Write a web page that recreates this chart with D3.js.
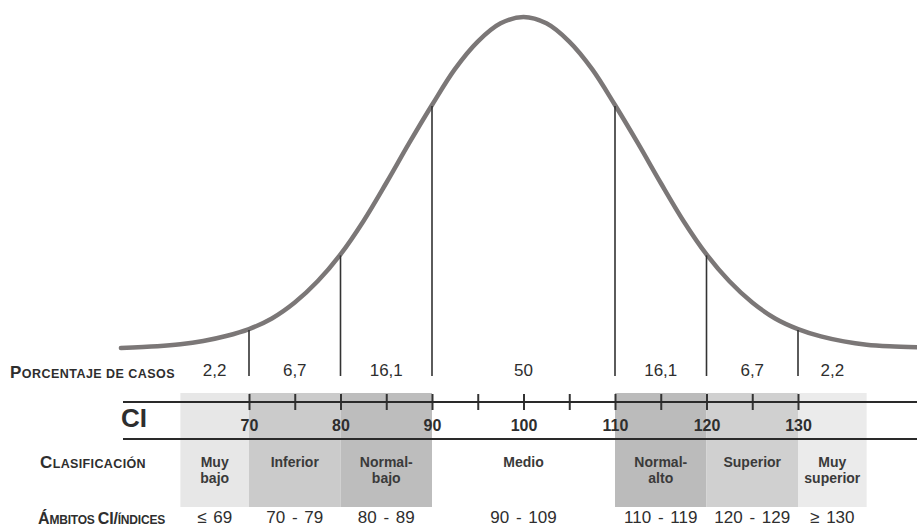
<!DOCTYPE html>
<html><head><meta charset="utf-8">
<script src="https://cdn.jsdelivr.net/npm/d3@7"></script>
<style>body{margin:0;background:#fff}svg{display:block;font-family:"Liberation Sans",Arial,sans-serif}</style>
</head><body>
<svg id="chart" width="917" height="528"></svg>
<script>
// ---- data ----
const curveIQ = [56,60,62.5,65,67.5,70,72.5,75,77.5,80,82.5,85,87.5,90,92.5,95,97.5,100,102.5,105,107.5,110,112.5,115,117.5,120,122.5,125,127.5,130,132.5,135,137.5,140,143];
const curveHeight = [0.3,0.8,1.4,2.4,3.9,6.0,9.2,14.0,20.4,28.5,38.5,50.0,62.0,73.5,84.3,92.6,98.1,100,98.1,92.6,84.3,73.5,62.0,50.0,38.5,28.5,20.4,14.0,9.2,6.0,3.8,2.3,1.3,0.8,0.5];
const cutPoints = [70,80,90,110,120,130];
const tickValues = [70,75,80,85,90,95,100,105,110,115,120,125,130];
const labeledTicks = [70,80,90,100,110,120,130];
const categories = ["Muy bajo","Inferior","Normal-bajo","Medio","Normal-alto","Superior","Muy superior"];
const classLines = [["Muy","bajo"],["Inferior"],["Normal-","bajo"],["Medio"],["Normal-","alto"],["Superior"],["Muy","superior"]];
const percentages = ["2,2","6,7","16,1","50","16,1","6,7","2,2"];
const rangeLabels = ["\u2264 69","70 - 79","80 - 89","90 - 109","110 - 119","120 - 129","\u2265 130"];
const bandFrom = [62.5,70,80,90,110,120,130];
const bandTo = [70,80,90,110,120,130,137.5];
const rowPorcentaje = [["P",1],["ORCENTAJE DE CASOS",0]];
const rowClasificacion = [["C",1],["LASIFICACI\u00d3N",0]];
const rowAmbitos = [["\u00c1",1],["MBITOS ",0],["CI/",1],["\u00cdNDICES",0]];
const axisTitle = "CI";

// ---- drawing ----
const svg = d3.select("#chart");
const x = d3.scaleLinear().domain([70,130]).range([249,798]);
const y = d3.scaleLinear().domain([0,100]).range([349,17]);
const shade = d3.scaleOrdinal().domain(categories)
  .range(["#e7e7e7","#cbcbcb","#bdbdbd","none","#bbbbbb","#d0d0d0","#ebebeb"]);
const ink = "#2e2e2e";

// shaded classification bands
svg.append("g").selectAll("rect").data(categories).join("rect")
  .attr("x", (d,i) => x(bandFrom[i]))
  .attr("y", 393)
  .attr("width", (d,i) => x(bandTo[i]) - x(bandFrom[i]))
  .attr("height", 114)
  .attr("fill", d => shade(d));

// bell curve
const pts = curveIQ.map((v,i) => [v, curveHeight[i]]);
const line = d3.line().x(d => x(d[0])).y(d => y(d[1])).curve(d3.curveCatmullRom.alpha(0.5));
svg.append("path").datum(pts).attr("d", line)
  .attr("fill","none").attr("stroke","#7b7777").attr("stroke-width",4.5).attr("stroke-linecap","round");

// vertical cut lines
svg.append("g").selectAll("line").data(cutPoints).join("line")
  .attr("x1", d => x(d)).attr("x2", d => x(d))
  .attr("y1", d => y(curveHeight[curveIQ.indexOf(d)]) + 1)
  .attr("y2", 376)
  .attr("stroke", "#333").attr("stroke-width", 1.6);

// percentages
const mids = categories.map((d,i) => (bandFrom[i] + bandTo[i]) / 2);
svg.append("g").selectAll("text").data(percentages).join("text")
  .attr("x", (d,i) => x(mids[i])).attr("y", 376)
  .attr("text-anchor","middle").attr("font-size",17).attr("fill",ink)
  .text(d => d);

// axis
const axis = d3.axisBottom(x).tickValues(tickValues).tickSize(8)
  .tickFormat(d => labeledTicks.includes(d) ? d : "");
const ag = svg.append("g").attr("transform","translate(0,402)").call(axis);
ag.select(".domain").remove();
ag.selectAll(".tick line").attr("y1",-8).attr("y2",8).attr("stroke","#333").attr("stroke-width",2);
ag.selectAll(".tick text").attr("y",0).attr("dy",null)
  .attr("transform","translate(0,29)")
  .attr("font-size",16).attr("font-weight","bold").attr("fill",ink)
  .attr("font-family",'"Liberation Sans",Arial,sans-serif');
svg.append("line").attr("x1",123).attr("x2",917).attr("y1",402).attr("y2",402)
  .attr("stroke","#2a2a2a").attr("stroke-width",2);
svg.append("line").attr("x1",123).attr("x2",917).attr("y1",439).attr("y2",439)
  .attr("stroke","#2a2a2a").attr("stroke-width",2);

// classification labels
const cg = svg.append("g").selectAll("text").data(classLines).join("text")
  .attr("text-anchor","middle").attr("font-size",14).attr("font-weight","bold").attr("fill","#3a3a3a");
cg.each(function(lines,i){
  d3.select(this).selectAll("tspan").data(lines).join("tspan")
    .attr("x", x(mids[i])).attr("y",(d,j) => 467 + j*16).text(d => d);
});

// range labels
svg.append("g").selectAll("text").data(rangeLabels).join("text")
  .attr("x",(d,i) => x(mids[i])).attr("y",523)
  .attr("text-anchor","middle").attr("font-size",17).attr("fill",ink)
  .attr("word-spacing",2)
  .text(d => d);

// row titles (small caps)
function smallCaps(parts, x0, yb, width, big, small){
  const t = svg.append("text").attr("x",x0).attr("y",yb)
    .attr("font-weight","bold").attr("fill",ink);
  t.selectAll("tspan").data(parts).join("tspan")
    .attr("font-size", d => d[1] ? big : small).text(d => d[0]);
  const natural = t.node().getComputedTextLength();
  const n = parts.reduce((s,p) => s + p[0].length, 0);
  t.attr("letter-spacing", ((width - natural) / n).toFixed(2));
}
smallCaps(rowPorcentaje, 10, 378, 165, 17, 12.5);
smallCaps(rowClasificacion, 40, 468, 106, 17, 12.5);
smallCaps(rowAmbitos, 38, 524, 127, 16, 12);
svg.append("text").attr("x",147).attr("y",427).attr("text-anchor","end")
  .attr("font-size",26).attr("font-weight","bold").attr("fill",ink).text(axisTitle);
</script>
</body></html>
